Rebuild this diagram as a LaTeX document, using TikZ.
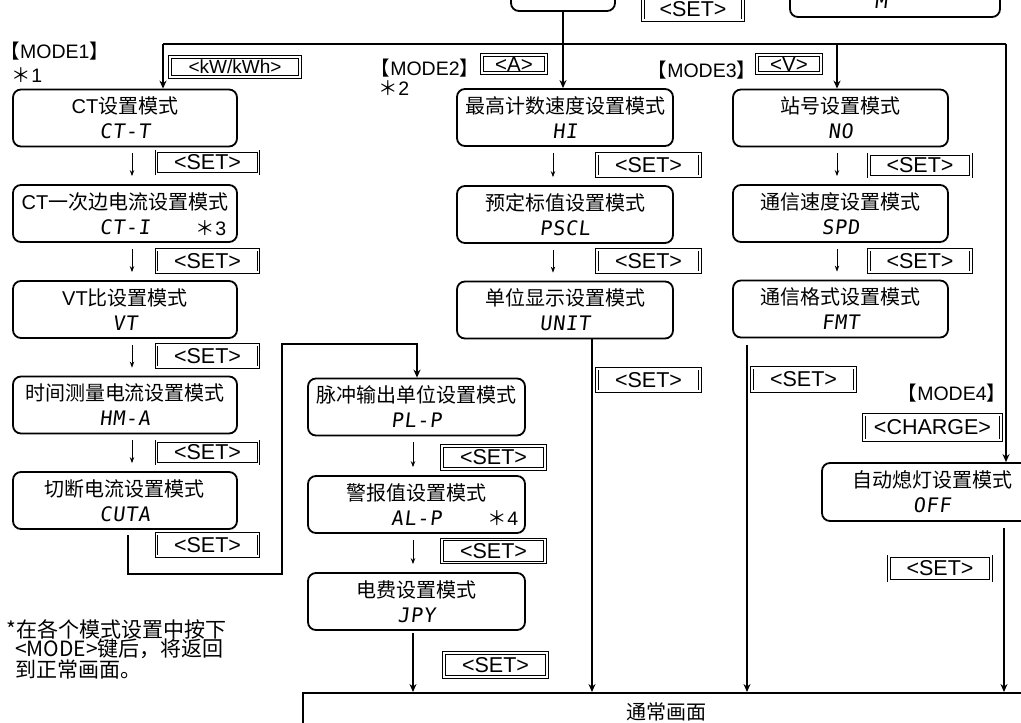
\documentclass[tikz,border=0pt]{standalone}
\usepackage{fontspec}
\setmainfont{Liberation Sans}
\newfontfamily\cjk{Noto Sans CJK SC}
\newfontfamily\lcd{DejaVu Sans Mono}[FakeSlant=0.12,LetterSpace=4]
\usetikzlibrary{arrows.meta}
\newcommand\zh[1]{{\cjk #1}}
\begin{document}
\begin{tikzpicture}[x=1pt,y=-1pt,
  mbox/.style={draw, line width=1.8pt, rounded corners=8pt, minimum width=#1, minimum height=57pt, inner sep=0pt, align=center, font=\fontsize{20}{25}\selectfont},
  mbox/.default=216pt,
  key/.style={draw, line width=0.8pt, double=white, double distance=1.8pt, minimum width=102pt, minimum height=22.5pt, inner sep=0pt, font=\fontsize{21.5}{22}\selectfont},
  conn/.style={line width=2pt},
  arr/.style={line width=2pt, -{Stealth[length=8pt,width=7pt]}},
  small/.style={line width=0.9pt, -{Stealth[length=6pt,width=4.5pt]}},
  lbl/.style={inner sep=0pt, font=\fontsize{19.5}{20}\selectfont},
  lcdtxt/.style={inner sep=0pt, font=\fontsize{21}{22}\selectfont\lcd},
]
\useasboundingbox (0,0) rectangle (1021,723);

% top (partially visible)
\node[mbox=104pt, minimum height=52pt] (topbox) at (563,-15) {};
\node[key, minimum width=100pt] (topset) at (693,9) {<SET>};
\node[mbox=210pt, minimum height=58pt] (topright) at (895,-12) {};
\node[lcdtxt] (toptext) at (881,1) {M};

% labels
\node[lbl, anchor=west] (m1) at (0.5,51) {\zh{【}MODE1\zh{】}};
\node[lbl] (s1) at (27,75) {\zh{＊}1};
\node[lbl] (m2) at (425,68) {\zh{【}MODE2\zh{】}};
\node[lbl] (s2) at (394,88) {\zh{＊}2};
\node[lbl] (m3) at (702,70) {\zh{【}MODE3\zh{】}};
\node[lbl] (m4) at (952,393) {\zh{【}MODE4\zh{】}};

\node[key, minimum width=130pt, minimum height=20pt, font=\fontsize{19}{20}\selectfont] (kwh) at (235,67) {<kW/kWh>};
\node[key, minimum width=64pt, minimum height=18pt, font=\fontsize{20.5}{20}\selectfont] (ka) at (514,64) {<A>};
\node[key, minimum width=64pt, minimum height=18pt, font=\fontsize{20.5}{20}\selectfont] (kv) at (789,64) {<V>};

% left column
\node[mbox=224pt] (ct) at (125,118) {CT\zh{设置模式}\\{\lcd CT-T}};
\node[mbox=224pt] (cti) at (125,213.5) {CT\zh{一次边电流设置模式}\\{\lcd CT-I}\hspace{40pt}};
\node[lbl] (star3) at (211,228) {\zh{＊}3};
\node[mbox=224pt] (vt) at (125,309.5) {VT\zh{比设置模式}\\{\lcd VT}};
\node[mbox=224pt] (hma) at (125,405) {\zh{时间测量电流设置模式}\\{\lcd HM-A}};
\node[mbox=224pt] (cuta) at (125,500.5) {\zh{切断电流设置模式}\\{\lcd CUTA}};

\node[key] (set1) at (207.5,162.5) {<SET>};
\node[key] (set2) at (207.5,261) {<SET>};
\node[key] (set3) at (207.5,356) {<SET>};
\node[key] (set4) at (207.5,452.5) {<SET>};
\node[key] (set5) at (207.5,545) {<SET>};

\foreach \a/\b in {ct/cti,cti/vt,vt/hma,hma/cuta}
  \draw[small] ([xshift=7pt,yshift=-6pt]\a.south) -- ([xshift=7pt,yshift=8pt]\b.north);

% mid-left column
\node[mbox=217pt] (pl) at (416.5,407) {\zh{脉冲输出单位设置模式}\\{\lcd PL-P}};
\node[mbox=217pt] (al) at (416.5,504.5) {\zh{警报值设置模式}\\{\lcd AL-P}};
\node[lbl] (star4) at (503,518) {\zh{＊}4};
\node[mbox=217pt] (jpy) at (416.5,601.5) {\zh{电费设置模式}\\{\lcd JPY}};
\node[key, minimum width=103pt, minimum height=23pt] (set6) at (493.5,457.5) {<SET>};
\node[key, minimum width=103pt, minimum height=23pt] (set7) at (493.5,551) {<SET>};
\node[key, minimum width=103pt, minimum height=24pt] (set8) at (495.5,665) {<SET>};
\foreach \a/\b in {pl/al,al/jpy}
  \draw[small] ([xshift=-3.5pt,yshift=-6pt]\a.south) -- ([xshift=-3.5pt,yshift=8pt]\b.north);

% middle column
\node[mbox=216pt] (hi) at (565,117.5) {\zh{最高计数速度设置模式}\\{\lcd HI}};
\node[mbox=216pt] (pscl) at (565,214.5) {\zh{预定标值设置模式}\\{\lcd PSCL}};
\node[mbox=216pt] (unit) at (565,310) {\zh{单位显示设置模式}\\{\lcd UNIT}};
\node[key, minimum width=103pt] (set9) at (648.5,165) {<SET>};
\node[key, minimum width=103pt] (set10) at (648.5,261) {<SET>};
\node[key, minimum width=103pt] (set11) at (648.5,380) {<SET>};
\foreach \a/\b in {hi/pscl,pscl/unit}
  \draw[small] ([xshift=-12pt,yshift=-6pt]\a.south) -- ([xshift=-12pt,yshift=8pt]\b.north);

% right column
\node[mbox=215pt] (no) at (840.5,118) {\zh{站号设置模式}\\{\lcd NO}};
\node[mbox=215pt] (spd) at (840.5,213.5) {\zh{通信速度设置模式}\\{\lcd SPD}};
\node[mbox=215pt] (fmt) at (840.5,309) {\zh{通信格式设置模式}\\{\lcd FMT}};
\node[key] (set12) at (920,165.5) {<SET>};
\node[key] (set13) at (920,261) {<SET>};
\node[key, minimum width=103pt, minimum height=23.5pt] (set14) at (803.5,379.5) {<SET>};
\foreach \a/\b in {no/spd,spd/fmt}
  \draw[small] ([xshift=-3.5pt,yshift=-6pt]\a.south) -- ([xshift=-3.5pt,yshift=8pt]\b.north);

% far right
\node[key, minimum width=137pt, minimum height=25.5pt] (charge) at (932.5,427.5) {<CHARGE>};
\node[mbox=220pt, minimum height=58pt] (off) at (932,492) {\zh{自动熄灯设置模式}\\{\lcd OFF}};
\node[key, minimum height=24.5pt] (set15) at (940,568.5) {<SET>};

% normal screen
\node[draw, line width=1.8pt, minimum width=728pt, minimum height=38pt, anchor=north west, inner sep=0pt, font=\fontsize{20}{20}\selectfont\cjk] (normal) at (302,692) {通常画面};

% note
\node[anchor=north west, align=left, inner sep=0pt, font=\fontsize{21}{19.5}\selectfont\cjk] (note) at (6,619) {*在各个模式设置中按下\\\hspace*{9pt}<MODE>键后，将返回\\\hspace*{9pt}到正常画面。};

% connectors
\coordinate (tl) at (163,44);
\coordinate (tm) at (837,44);
\coordinate (tr) at (1006,44);
\draw[conn] (tl) -- (tr);
\draw[arr] (topbox.south) -- (topbox.south |- hi.north);
\draw[arr] (tl) -- (tl |- ct.north);
\draw[arr] (tm) -- (tm |- no.north);
\draw[arr] (tr) -- (tr |- off.north);

\coordinate (l1) at (128,535);
\coordinate (l2) at (128,574);
\coordinate (l3) at (282,574);
\coordinate (l4) at (282,344);
\coordinate (l5) at (417,344);
\draw[arr] (l1) -- (l2) -- (l3) -- (l4) -- (l5) -- (l5 |- pl.north);

\coordinate (j1) at (413,633);
\coordinate (u1) at (592,338);
\coordinate (f1) at (747,345);
\coordinate (o1) at (1004,528);
\foreach \c in {j1,u1,f1,o1}
  \draw[arr] (\c) -- (\c |- normal.north);
\end{tikzpicture}
\end{document}
